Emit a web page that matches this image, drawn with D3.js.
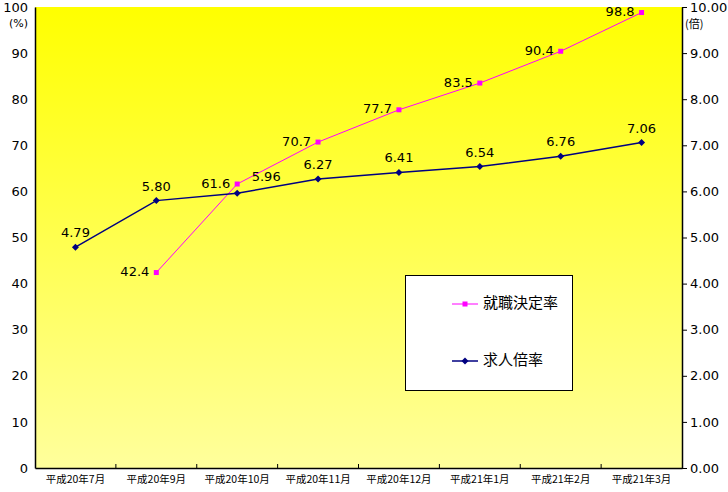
<!DOCTYPE html>
<html><head><meta charset="utf-8">
<script src="https://cdn.jsdelivr.net/npm/d3@7"></script>
<style>body{margin:0;background:#fff}svg{display:block}</style>
</head><body>
<svg id="c" width="728" height="492"></svg>
<script>
const categories = ["平成20年7月","平成20年9月","平成20年10月","平成20年11月","平成20年12月","平成21年1月","平成21年2月","平成21年3月"];
const rateValues = [null,42.4,61.6,70.7,77.7,83.5,90.4,98.8];   // 就職決定率 (%)
const ratioValues = [4.79,5.80,5.96,6.27,6.41,6.54,6.76,7.06];  // 求人倍率 (倍)
const leftTicks = [0,10,20,30,40,50,60,70,80,90,100];
const rightTicks = [0,1,2,3,4,5,6,7,8,9,10];
const seriesNames = ["就職決定率","求人倍率"];

const svg = d3.select("#c");
const L=35, R=682, T=7, B=468;
const font = "'DejaVu Sans', 'Noto Sans CJK JP', sans-serif";
const cjk = "'Noto Sans CJK JP', sans-serif";

const defs = svg.append("defs");
const g = defs.append("linearGradient").attr("id","bg").attr("x1",0).attr("y1",0).attr("x2",0).attr("y2",1);
g.append("stop").attr("offset","0%").attr("stop-color","#FFFF00");
g.append("stop").attr("offset","100%").attr("stop-color","#FFFF9C");
svg.append("rect").attr("x",L).attr("y",T).attr("width",R-L).attr("height",B-T).attr("fill","url(#bg)");

const x = d3.scaleBand().domain(categories).range([L,R]);
const yL = d3.scaleLinear().domain([0,100]).range([B,T]);
const yR = d3.scaleLinear().domain([0,10]).range([B,T]);

// left axis
const axL = svg.append("g").attr("transform",`translate(${L},0)`)
  .call(d3.axisLeft(yL).tickValues(leftTicks).tickSize(0).tickPadding(7).tickFormat(d3.format("d")));
axL.select(".domain").attr("stroke","#000").attr("stroke-width",1.5);
axL.selectAll("text").attr("font-family",font).attr("font-size",13).attr("fill","#000");
svg.append("text").attr("x",28).attr("y",24).attr("text-anchor","end").attr("dominant-baseline","middle")
  .attr("font-family",font).attr("font-size",11).text("(%)");

// right axis
const axR = svg.append("g").attr("transform",`translate(${R},0)`)
  .call(d3.axisRight(yR).tickValues(rightTicks).tickSizeInner(5).tickSizeOuter(0).tickPadding(3).tickFormat(d3.format(".2f")));
axR.select(".domain").attr("stroke","#000").attr("stroke-width",1.5);
axR.selectAll("line").attr("stroke","#000");
axR.selectAll("text").attr("font-family",font).attr("font-size",13).attr("fill","#000");
svg.append("text").attr("x",685).attr("y",25).attr("dominant-baseline","middle")
  .attr("font-family",cjk).attr("font-size",11).text("(倍)");

// bottom axis
const axB = svg.append("g").attr("transform",`translate(0,${B})`)
  .call(d3.axisBottom(x).tickSize(0).tickPadding(8));
axB.select(".domain").attr("stroke","#000").attr("stroke-width",1.5);
axB.selectAll("text").attr("font-family",cjk).attr("font-size",10.5).attr("fill","#000");
svg.append("g").selectAll("line").data(categories.slice(1)).join("line")
  .attr("x1",d=>x(d)).attr("x2",d=>x(d)).attr("y1",B).attr("y2",B-4).attr("stroke","#000");

const cx = d=>x(d)+x.bandwidth()/2;

// 就職決定率
const rateData = categories.map((c,i)=>({c,v:rateValues[i]})).filter(d=>d.v!=null);
svg.append("path").datum(rateData)
  .attr("d",d3.line().x(d=>cx(d.c)).y(d=>yL(d.v)))
  .attr("fill","none").attr("stroke","#FF00FF").attr("stroke-width",1);
svg.append("g").selectAll("rect").data(rateData).join("rect")
  .attr("x",d=>cx(d.c)-2.5).attr("y",d=>yL(d.v)-2.5).attr("width",5).attr("height",5).attr("fill","#FF00FF");
svg.append("g").selectAll("text").data(rateData).join("text")
  .attr("x",d=>cx(d.c)-7).attr("y",d=>yL(d.v)).attr("text-anchor","end").attr("dominant-baseline","middle")
  .attr("font-family",font).attr("font-size",13).text(d=>d.v.toFixed(1));

// 求人倍率
const ratioData = categories.map((c,i)=>({c,v:ratioValues[i]}));
svg.append("path").datum(ratioData)
  .attr("d",d3.line().x(d=>cx(d.c)).y(d=>yR(d.v)))
  .attr("fill","none").attr("stroke","#000080").attr("stroke-width",1.5);
svg.append("g").selectAll("path").data(ratioData).join("path")
  .attr("transform",d=>`translate(${cx(d.c)},${yR(d.v)})`)
  .attr("d","M0,-3.5L3.5,0L0,3.5L-3.5,0Z").attr("fill","#000080");
svg.append("g").selectAll("text").data(ratioData).join("text")
  .attr("x",(d,i)=>cx(d.c)+(i===2?29:0)).attr("y",(d,i)=>yR(d.v)-(i===2?12:10)).attr("text-anchor","middle")
  .attr("font-family",font).attr("font-size",13).text(d=>d.v.toFixed(2));

// legend
const lg = svg.append("g");
lg.append("rect").attr("x",405.5).attr("y",275.5).attr("width",167).attr("height",115).attr("fill","#fff").attr("stroke","#000").attr("stroke-width",1);
const legendY=[304,361], colors=["#FF00FF","#000080"];
seriesNames.forEach((n,i)=>{
  lg.append("line").attr("x1",452).attr("x2",478).attr("y1",legendY[i]).attr("y2",legendY[i]).attr("stroke",colors[i]).attr("stroke-width",i?1.5:1);
  if(i===0) lg.append("rect").attr("x",462.5).attr("y",legendY[i]-2.5).attr("width",5).attr("height",5).attr("fill",colors[i]);
  else lg.append("path").attr("transform",`translate(465,${legendY[i]})`).attr("d","M0,-3.5L3.5,0L0,3.5L-3.5,0Z").attr("fill",colors[i]);
  lg.append("text").attr("x",483).attr("y",legendY[i]).attr("dominant-baseline","middle")
    .attr("font-family",cjk).attr("font-size",15).text(n);
});
</script>
</body></html>
